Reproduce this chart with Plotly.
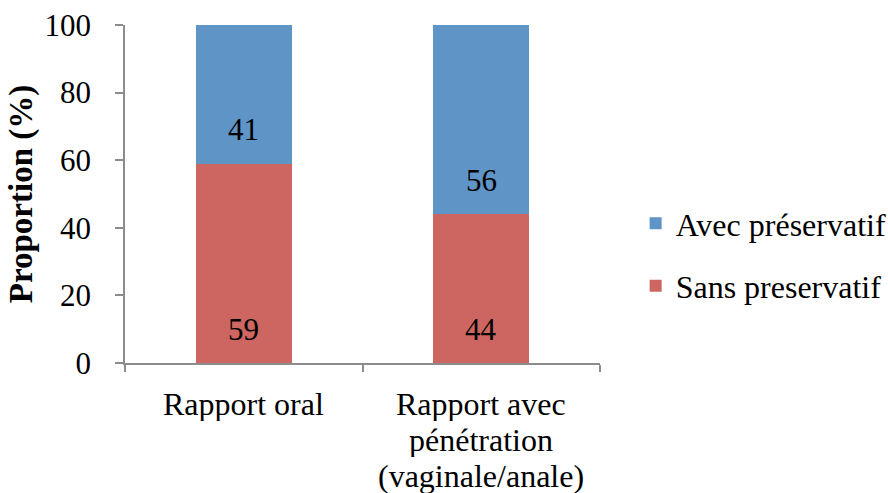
import plotly.graph_objects as go

categories = ["Rapport oral", "Rapport avec<br>pénétration<br>(vaginale/anale)"]
sans = [59, 44]
avec = [41, 56]
series_names = ["Sans preservatif", "Avec préservatif"]
colors = ["#CD6660", "#5F94C6"]
y_ticks = [0, 20, 40, 60, 80, 100]

FONT = "Liberation Serif"
FS = 31

fig = go.Figure()
for i, (name, vals, col) in enumerate(zip(series_names, [sans, avec], colors)):
    fig.add_trace(go.Bar(
        x=categories, y=vals, name=name, marker=dict(color=col, line=dict(width=0)),
        width=0.404, legendgroup=f"g{i}", legendrank=2 - i,
    ))

# value labels near the base of each segment
for vals, bases in [(sans, [0, 0]), (avec, sans)]:
    for c, v, b in zip(categories, vals, bases):
        fig.add_annotation(x=c, y=b + 10, text=str(v), showarrow=False,
                           font=dict(family=FONT, size=FS, color="black"))

# category labels, one line per annotation for tighter line spacing
for c in categories:
    for i, line in enumerate(c.split("<br>")):
        fig.add_annotation(x=c, xref="x", y=0, yref="paper", yanchor="middle",
                           yshift=-(41 + 36 * i), text=line, showarrow=False,
                           height=34, valign="middle",
                           font=dict(family=FONT, size=32, color="black"))

fig.update_layout(
    barmode="stack",
    width=888, height=493,
    margin=dict(l=125, r=288, t=25, b=130, autoexpand=False),
    paper_bgcolor="white", plot_bgcolor="white",
    font=dict(family=FONT, size=FS, color="black"),
    showlegend=True,
    legend=dict(x=1.075, y=0.32, xanchor="left", yanchor="middle",
                traceorder="grouped", tracegroupgap=18,
                font=dict(family=FONT, size=32), itemwidth=30),
    xaxis=dict(showline=True, linecolor="#8c8c8c", linewidth=1.5,
               ticks="outside", ticklen=7, tickcolor="#8c8c8c", tickwidth=1.5,
               tickson="boundaries", showgrid=False, automargin=False,
               showticklabels=False),
    yaxis=dict(range=[0, 100], tickvals=y_ticks, showline=True, linecolor="#8c8c8c",
               linewidth=1.5, ticks="outside", ticklen=8, tickcolor="#8c8c8c", tickwidth=1.5,
               showgrid=False, zeroline=False, automargin=False,
               tickfont=dict(family=FONT, size=FS), ticklabelstandoff=18,
               title=dict(text="<b>Proportion (%)</b>", font=dict(family=FONT, size=33), standoff=2)),
)

fig.write_html("out.html", config={"displayModeBar": False},
               post_script="document.body.style.margin='0px';")
